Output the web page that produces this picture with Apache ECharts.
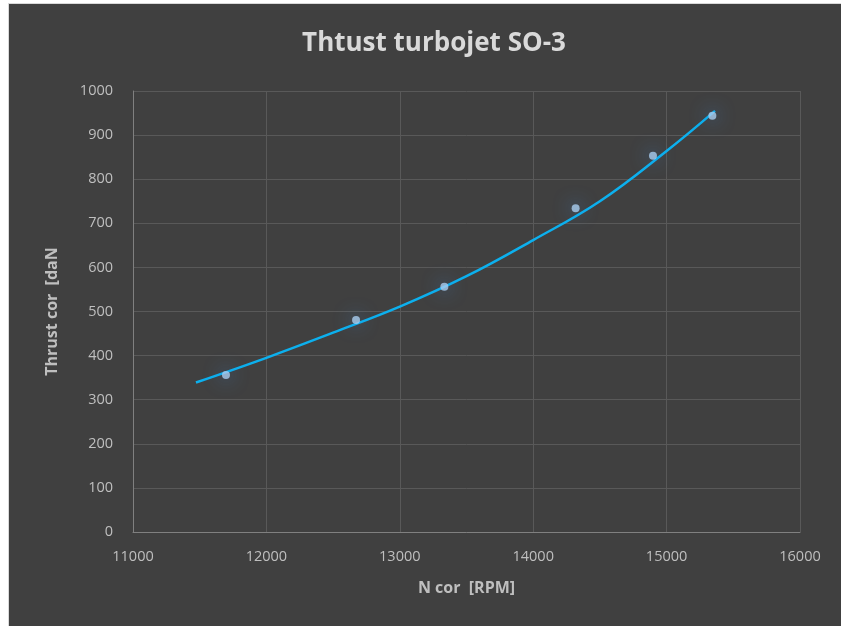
<!DOCTYPE html>
<html>
<head>
<meta charset="utf-8">
<script src="https://cdn.jsdelivr.net/npm/echarts@6/dist/echarts.min.js"></script>
<style>
html,body{margin:0;padding:0;background:#fff;width:841px;height:626px;overflow:hidden;}
#chart{position:absolute;left:8px;top:3px;width:832px;height:622px;border-left:1px solid #d9d9d9;border-top:1px solid #d9d9d9;background:#404040;}
</style>
</head>
<body>
<div id="chart"></div>
<script>
const titleText = 'Thtust turbojet SO-3';
const xName = 'N cor  [RPM]';
const yName = 'Thrust cor  [daN';
// measured points
const rpm = [11697, 12672, 13334, 14318, 14898, 15343];
const thrust = [356, 481, 556, 734, 853, 944];
// trend line
const trendRpm = [11472, 12000, 12500, 13000, 13500, 14000, 14500, 15000, 15363];
const trendThrust = [339, 395, 452, 511, 580, 662, 750, 864, 955];

const chart = echarts.init(document.getElementById('chart'));
const font = '"Open Sans", Calibri, sans-serif';
chart.setOption({
  backgroundColor: '#404040',
  animation: false,
  title: {
    text: titleText,
    left: 420, top: 22, textAlign: 'center',
    textStyle: {color: '#d9d9d9', fontSize: 26, fontWeight: 'bold', fontFamily: font}
  },
  grid: {left: 124, right: 41, top: 87, bottom: 94},
  xAxis: {
    type: 'value', min: 11000, max: 16000, interval: 1000,
    name: xName, nameLocation: 'middle', nameGap: 48,
    nameTextStyle: {color: '#bfbfbf', fontSize: 16, fontWeight: 'bold', fontFamily: font},
    axisLine: {show: true, lineStyle: {color: '#808080'}},
    axisTick: {show: false},
    axisLabel: {color: '#bfbfbf', fontSize: 14.5, margin: 17, fontFamily: font, formatter: v => String(v)},
    splitLine: {show: true, lineStyle: {color: '#595959', width: 1}}
  },
  yAxis: {
    type: 'value', min: 0, max: 1000, interval: 100,
    name: yName, nameLocation: 'middle', nameGap: 73, nameRotate: 90,
    nameTextStyle: {color: '#bfbfbf', fontSize: 16, fontWeight: 'bold', fontFamily: font},
    axisLine: {show: true, lineStyle: {color: '#808080'}},
    axisTick: {show: false},
    axisLabel: {color: '#bfbfbf', fontSize: 14.5, margin: 20, fontFamily: font, formatter: v => String(v)},
    splitLine: {show: true, lineStyle: {color: '#595959', width: 1}}
  },
  series: [
    {
      type: 'line', smooth: 0.4, showSymbol: false,
      data: trendRpm.map((x, i) => [x, trendThrust[i]]),
      lineStyle: {color: '#0cb0ee', width: 2.5}, z: 2
    },
    {
      type: 'scatter', symbolSize: 8,
      data: rpm.map((x, i) => [x, thrust[i]]),
      itemStyle: {color: '#a9cdf0', shadowBlur: 18, shadowColor: 'rgba(60,140,230,1)'}, z: 3
    }
  ]
});
</script>
</body>
</html>
